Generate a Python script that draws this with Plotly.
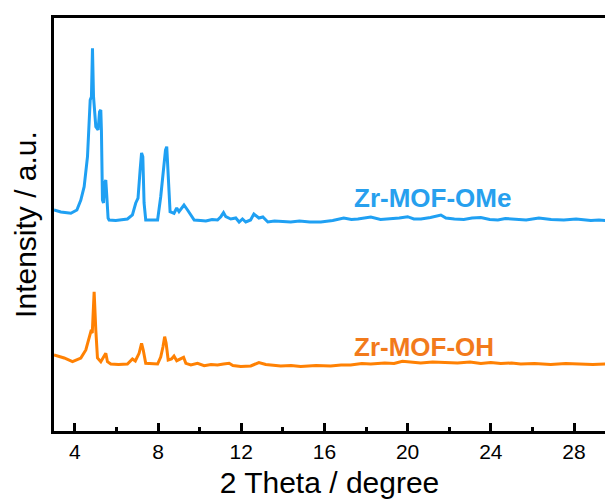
import plotly.graph_objects as go

# Diffraction angle (2 theta, degree) and intensity (a.u., stacked) for Zr-MOF-OMe
two_theta_ome = [3.00, 3.33, 3.81, 4.10, 4.29, 4.45, 4.61, 4.69, 4.74, 4.80, 4.85, 4.90,
                 5.01, 5.12, 5.19, 5.25, 5.28, 5.33, 5.38, 5.44, 5.49, 5.54, 5.60, 5.65,
                 5.97, 6.53, 6.77, 6.93, 7.04, 7.14, 7.21, 7.27, 7.33, 7.41, 7.98, 8.13,
                 8.26, 8.36, 8.42, 8.49, 8.58, 8.77, 8.90, 9.01, 9.25, 9.42, 9.74, 10.05,
                 10.30, 10.60, 10.86, 11.02, 11.15, 11.26, 11.50, 11.74, 11.90, 12.06, 12.22,
                 12.45, 12.61, 12.85, 13.04, 13.28, 13.60, 14.00, 14.38, 14.80, 15.30, 15.83,
                 16.40, 16.93, 17.30, 17.61, 17.95, 18.23, 18.70, 19.19, 19.60, 20.00, 20.30,
                 20.64, 21.10, 21.60, 21.84, 22.25, 22.70, 23.10, 23.52, 23.95, 24.34, 24.70,
                 25.11, 25.70, 26.31, 26.90, 27.51, 28.10, 28.81, 29.20, 29.53]
intensity_ome = [223, 221, 219.7, 223, 233, 246.3, 276.3, 320, 333, 336.3, 384.7, 336.3,
                 306.3, 303, 321.3, 323, 303, 233, 230, 250, 253, 236.3, 215, 213,
                 212.5, 214, 218, 230, 235, 263, 280, 276.3, 230, 213, 213, 236.3,
                 260, 283, 286.3, 263, 221.3, 219.7, 225, 221.3, 228, 223, 213, 212.5,
                 212, 213.5, 213, 216.3, 220.3, 216.3, 214, 215, 211, 214, 211,
                 213, 219, 215, 216, 211, 212, 211.5, 211, 212, 211, 211,
                 212.5, 215, 213.5, 214, 215.5, 216, 213.5, 214, 215, 216.3, 214,
                 214, 215.5, 218, 215, 214, 213.5, 215, 215.5, 213.5, 213, 214.5,
                 214, 213, 215, 213.5, 213, 214, 212.5, 213, 212.3]

# Diffraction angle (2 theta, degree) and intensity (a.u., stacked) for Zr-MOF-OH
two_theta_oh = [3.00, 3.49, 3.89, 4.29, 4.53, 4.69, 4.77, 4.84, 4.93, 5.01, 5.09, 5.25,
                5.41, 5.49, 5.57, 5.73, 6.10, 6.53, 6.77, 6.91, 7.09, 7.21, 7.29, 7.41,
                7.98, 8.13, 8.24, 8.32, 8.39, 8.49, 8.65, 8.77, 8.90, 9.09, 9.23, 9.34,
                9.58, 9.90, 10.22, 10.55, 10.86, 11.15, 11.42, 11.60, 11.98, 12.46, 12.85,
                13.18, 13.50, 13.90, 14.40, 14.86, 15.60, 16.30, 16.80, 17.26, 17.80, 18.23,
                18.90, 19.35, 19.75, 20.20, 20.63, 21.20, 21.84, 22.40, 23.00, 23.52, 24.00,
                24.48, 25.00, 25.44, 26.10, 26.88, 27.60, 28.32, 28.90, 29.53]
intensity_oh = [78, 75, 71.3, 75, 83, 96.3, 101.3, 100, 141.3, 103, 75, 71.3,
                76.3, 79.7, 71.3, 69, 68.5, 69, 74, 72, 79.7, 89.7, 83, 69.7,
                69, 76, 86.3, 96.3, 90, 73, 74, 77, 72.3, 74.7, 75.7, 69.7,
                68, 69.7, 67.3, 68.5, 68, 69, 69.7, 67.5, 66.5, 67, 70.5,
                68.5, 67.5, 67, 67.5, 66.5, 67.5, 67, 68, 68, 69.5, 69,
                70, 69.5, 71.7, 70.5, 70, 71, 70.5, 70, 71, 69.5, 70.5,
                69.5, 70, 69, 69.5, 68.5, 69.5, 69, 68.5, 69]

sample_names = ["Zr-MOF-OMe", "Zr-MOF-OH"]
line_colors = ["#1FA0F3", "#FF8103"]
label_colors = ["#27A0EE", "#F27A1B"]
label_x = [17.32, 17.32]
label_y = [235, 86.5]

fig = go.Figure()
series = [(two_theta_ome, intensity_ome), (two_theta_oh, intensity_oh)]
for (tt, inten), name, color in zip(series, sample_names, line_colors):
    fig.add_trace(go.Scatter(x=tt, y=inten, mode="lines", name=name,
                             line=dict(color=color, width=3), showlegend=False))

for name, color, lx, ly in zip(sample_names, label_colors, label_x, label_y):
    fig.add_annotation(x=lx, y=ly, text=f"<b>{name}</b>", showarrow=False,
                       xanchor="left", yanchor="middle",
                       font=dict(family="Liberation Sans, Arial", size=26, color=color))

fig.update_layout(
    width=605, height=501,
    margin=dict(l=54, r=0, t=18, b=70),
    paper_bgcolor="white", plot_bgcolor="white",
    font=dict(family="Liberation Sans, Arial", color="black"),
    xaxis=dict(
        range=[3, 29.49], tick0=4, dtick=4, ticks="inside", ticklen=8, tickwidth=2.5,
        tickcolor="black", showline=True, linecolor="black", linewidth=3, mirror=True,
        showgrid=False, zeroline=False, tickfont=dict(size=21),
        title=dict(text="2 Theta / degree", font=dict(size=30), standoff=10),
        minor=dict(dtick=2, tick0=4, ticks="inside", ticklen=4, tickwidth=2.5,
                   tickcolor="black", showgrid=False),
    ),
    yaxis=dict(
        range=[2, 415], showticklabels=False, ticks="", showline=True,
        linecolor="black", linewidth=3, mirror=False, showgrid=False, zeroline=False,
        title=dict(text="Intensity / a.u.", font=dict(size=30), standoff=6),
    ),
)

fig.write_html("out.html")
